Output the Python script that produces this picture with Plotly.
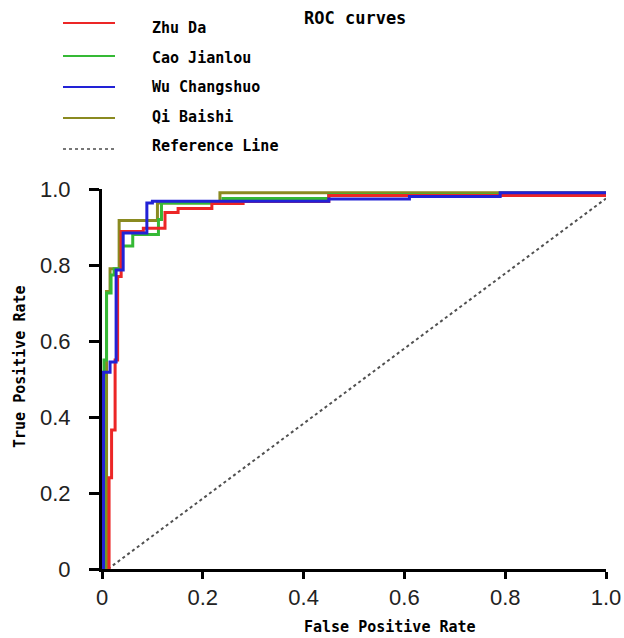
import plotly.graph_objects as go

# ---- data ----
series_names = ["Zhu Da", "Cao Jianlou", "Wu Changshuo", "Qi Baishi"]
series_colors = ["#ec2626", "#35b935", "#2222d6", "#8a8a20"]

# step points: (FPR where TPR rises, TPR after the rise)
zhu_da_fpr = [0.014, 0.014, 0.019, 0.026, 0.031, 0.038, 0.082, 0.125, 0.151, 0.218, 0.28, 0.45, 1.0]
zhu_da_tpr = [0.0, 0.24, 0.366, 0.55, 0.77, 0.888, 0.897, 0.938, 0.949, 0.962, 0.967, 0.983, 0.983]

cao_fpr = [0.004, 0.004, 0.009, 0.018, 0.024, 0.040, 0.061, 0.112, 0.118, 0.24, 0.45, 1.0]
cao_tpr = [0.0, 0.55, 0.726, 0.774, 0.79, 0.85, 0.88, 0.92, 0.963, 0.975, 0.985, 0.985]

wu_fpr = [0.003, 0.003, 0.016, 0.028, 0.042, 0.089, 0.10, 0.45, 0.61, 0.79, 1.0]
wu_tpr = [0.0, 0.518, 0.545, 0.787, 0.884, 0.963, 0.968, 0.974, 0.98, 0.99, 0.99]

qi_fpr = [0.009, 0.009, 0.016, 0.034, 0.11, 0.234, 1.0]
qi_tpr = [0.0, 0.73, 0.79, 0.917, 0.963, 0.99, 0.99]

ref_fpr = [0.012, 1.0]
ref_tpr = [0.0, 0.975]

tick_vals = [0, 0.2, 0.4, 0.6, 0.8, 1.0]
tick_text = ["0", "0.2", "0.4", "0.6", "0.8", "1.0"]

title_text = "ROC curves"
x_title = "False Positive Rate"
y_title = "True Positive Rate"
ref_name = "Reference Line"

# ---- layout geometry (pixels) ----
W, H = 624, 638
L, R, T, B = 102, 18, 189, 69
PW, PH = W - L - R, H - T - B


def px_x(px):
    return (px - L) / PW


def px_y(py):
    return (H - B - py) / PH


mono = "DejaVu Sans Mono"

fig = go.Figure()

fig.add_trace(go.Scatter(x=ref_fpr, y=ref_tpr, mode="lines", name=ref_name,
                         line=dict(color="#505050", width=2, dash="dot"), showlegend=False))

curves = [
    (qi_fpr, qi_tpr, 3),
    (cao_fpr, cao_tpr, 1),
    (zhu_da_fpr, zhu_da_tpr, 0),
    (wu_fpr, wu_tpr, 2),
]
for xs, ys, idx in curves:
    fig.add_trace(go.Scatter(x=xs, y=ys, mode="lines", name=series_names[idx],
                             line=dict(color=series_colors[idx], width=3, shape="hv"),
                             showlegend=False))

axis_common = dict(
    range=[0, 1], showgrid=False, zeroline=False, showline=True, linecolor="black",
    linewidth=3, ticks="outside", tickwidth=3, tickcolor="black", layer="below traces",
    tickvals=tick_vals, ticktext=tick_text, automargin=False,
    tickfont=dict(family="Liberation Sans", size=22, color="#222222"),
)
fig.update_xaxes(**axis_common, ticklen=7)
fig.update_yaxes(**axis_common, ticklen=10, ticklabelstandoff=14)

# manual legend
legend_line_y = [23, 56, 87, 118, 149]
legend_text_y = [28, 58, 87, 117, 146]
legend_labels = series_names + [ref_name]
legend_colors = series_colors + ["#777777"]
shapes = []
annotations = []
for i, lab in enumerate(legend_labels):
    shapes.append(dict(type="line", xref="paper", yref="paper",
                       x0=px_x(63), x1=px_x(115), y0=px_y(legend_line_y[i]), y1=px_y(legend_line_y[i]),
                       line=dict(color=legend_colors[i], width=2,
                                 dash="dot" if i == 4 else "solid")))
    annotations.append(dict(text=lab, xref="paper", yref="paper", x=px_x(150), y=px_y(legend_text_y[i]),
                            xanchor="left", yanchor="middle", showarrow=False,
                            font=dict(family=mono, size=15, color="black", weight="bold")))

annotations.append(dict(text=title_text, xref="paper", yref="paper", x=px_x(355), y=px_y(18),
                        xanchor="center", yanchor="middle", showarrow=False,
                        font=dict(family=mono, size=17, color="black", weight="bold")))
annotations.append(dict(text=x_title, xref="paper", yref="paper", x=px_x(390), y=px_y(627),
                        xanchor="center", yanchor="middle", showarrow=False,
                        font=dict(family=mono, size=15, color="black", weight="bold")))
annotations.append(dict(text=y_title, xref="paper", yref="paper", x=px_x(20), y=px_y(367),
                        xanchor="center", yanchor="middle", showarrow=False, textangle=-90,
                        font=dict(family=mono, size=15, color="black", weight="bold")))

fig.update_layout(
    width=W, height=H, margin=dict(l=L, r=R, t=T, b=B, pad=0, autoexpand=False),
    plot_bgcolor="white", paper_bgcolor="white", showlegend=False,
    shapes=shapes, annotations=annotations,
)

fig.write_html("out.html", config={"displayModeBar": False},
               post_script="document.body.style.margin='0';")
